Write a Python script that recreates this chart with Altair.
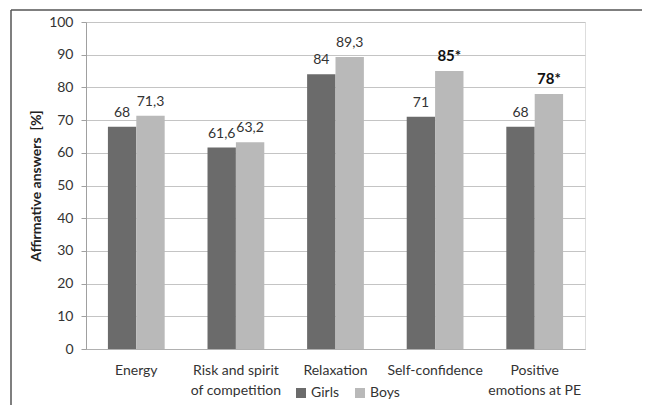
import altair as alt
import pandas as pd

categories = ["Energy", "Risk and spirit\nof competition", "Relaxation", "Self-confidence", "Positive\nemotions at PE"]
girls = [68, 61.6, 84, 71, 68]
boys = [71.3, 63.2, 89.3, 85, 78]
girls_labels = ["68", "61,6", "84", "71", "68"]
boys_labels = ["71,3", "63,2", "89,3", "85*", "78*"]
boys_bold = [False, False, False, True, True]
series = ["Girls", "Boys"]
colors = ["#6b6b6b", "#b9b9b9"]
y_ticks = [0, 10, 20, 30, 40, 50, 60, 70, 80, 90, 100]

rows = []
for i, c in enumerate(categories):
    rows.append({"category": c, "sex": "Girls", "value": girls[i], "label": girls_labels[i], "bold": False})
    rows.append({"category": c, "sex": "Boys", "value": boys[i], "label": boys_labels[i], "bold": boys_bold[i]})
df = pd.DataFrame(rows)

FONT = "Lato"
FS = 14

x_enc = alt.X(
    "category:N", sort=categories,
    scale=alt.Scale(paddingInner=0.43, paddingOuter=0.22),
    axis=alt.Axis(
        title=None, labelAngle=0, labelExpr="split(datum.value, '\\n')",
        labelFontSize=FS, labelColor="#333333", labelFont=FONT,
        labelPadding=14, labelLineHeight=20, ticks=False,
        domainColor="#b0b0b0", labelBaseline="top",
    ),
)
xoff = alt.XOffset("sex:N", sort=series, scale=alt.Scale(paddingInner=0, paddingOuter=0))
y_enc = alt.Y(
    "value:Q", scale=alt.Scale(domain=[0, 100]),
    axis=alt.Axis(
        title="Affirmative answers\u00a0 [%]", titleFontSize=FS, titleFont=FONT,
        titleFontWeight="bold", titleColor="#222222", titlePadding=5,
        values=y_ticks, tickCount=11, labelFontSize=FS, labelFont=FONT,
        labelColor="#333333", tickSize=5, tickColor="#a0a0a0",
        labelPadding=8, domainColor="#a0a0a0", gridColor="#c4c4c4",
    ),
)

base = alt.Chart(df).encode(x=x_enc, xOffset=xoff, y=y_enc)

bars = base.mark_bar().encode(
    color=alt.Color(
        "sex:N", sort=series, scale=alt.Scale(domain=series, range=colors),
        legend=alt.Legend(
            title=None, orient="none", legendX=208, legendY=364,
            direction="horizontal", symbolType="square", symbolSize=100,
            symbolStrokeWidth=0, labelFontSize=FS, labelFont=FONT,
            labelColor="#333333", columnPadding=14, labelOffset=3,
        ),
    ),
)

txt_normal = base.transform_filter("!datum.bold").mark_text(
    baseline="bottom", dy=-7, fontSize=FS, font=FONT, color="#333333"
).encode(text="label:N")

txt_bold = base.transform_filter("datum.bold").mark_text(
    baseline="bottom", dy=-7, fontSize=15, font=FONT, fontWeight="bold", color="#111111"
).encode(text="label:N")

frame_df = pd.DataFrame({"k": [0]})
top_line = alt.Chart(frame_df).mark_rule(color="#555555", strokeWidth=1.5).encode(
    x=alt.value(-75), x2=alt.value(570), y=alt.value(-12)
)
left_line = alt.Chart(frame_df).mark_rule(color="#555555", strokeWidth=1.5).encode(
    x=alt.value(-75), y=alt.value(-12), y2=alt.value(400)
)

chart = alt.layer(bars, txt_normal, txt_bold, top_line, left_line).properties(
    width=499, height=327,
    autosize=alt.AutoSizeParams(type="none"),
    padding={"left": 78, "top": 14, "right": 57, "bottom": 56},
).configure_view(stroke=None).configure(font=FONT)

chart.save("out.html", embed_options={"renderer": "svg", "actions": False})
